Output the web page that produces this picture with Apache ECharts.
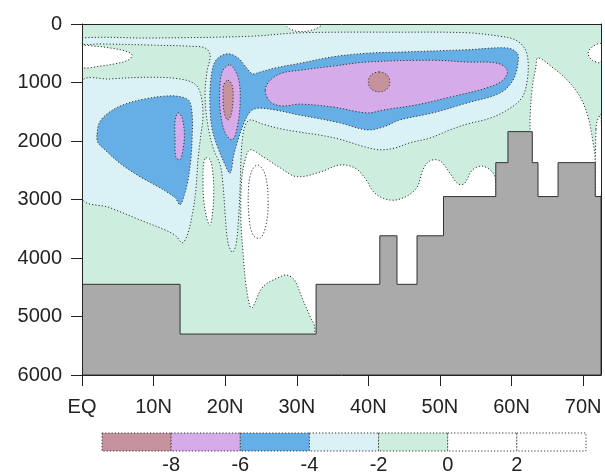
<!DOCTYPE html>
<html><head><meta charset="utf-8">
<script src="https://cdn.jsdelivr.net/npm/echarts@6/dist/echarts.min.js"></script>
<style>html,body{margin:0;padding:0;background:#fff}#c{width:605px;height:475px}</style>
</head><body><div id="c"></div>
<script>
// ---- axes / ticks ----
const latTicks = [0, 10, 20, 30, 40, 50, 60, 70];
const latMax = 72.5;
const depthTicks = [0, 1000, 2000, 3000, 4000, 5000, 6000];
const levels = [-8, -6, -4, -2, 0, 2];
const binLows = [-10, -8, -6, -4, -2, 0, 2];

// ---- bottom topography (step edges in latitude, depth of sea floor) ----
const topoEdges = [0, 13.7, 32.7, 41.6, 44.0, 46.8, 50.5, 57.8, 59.5, 62.9, 63.7, 66.5, 71.7, 72.5];
const topoDepth = [4450, 5300, 4450, 3620, 4450, 3620, 2950, 2370, 1840, 2370, 2950, 2370, 2950];

// ---- contour regions [lat, depth] (background level: -2..0) ----
const whiteTop = [[28.5,0],[33.5,0],[32.5,90],[30.5,130],[29.0,80]];
const whiteNW = [[0,390],[1.8,380],[3.9,410],[6.0,460],[7.0,530],[6.4,620],[4.6,680],[2.5,720],[0,730]];
const whiteNE = [[72.5,340],[71.3,390],[70.7,500],[71.3,620],[72.5,650]];
const whiteSliver20N = [[17.3,2290],[17.9,2320],[18.3,2580],[18.4,2920],[18.2,3260],[17.9,3440],[17.5,3350],[17.0,3010],[16.9,2630],[17.0,2380]];
const whiteDeep = [[23.5,2150],[25.3,2270],[27.7,2460],[30.0,2610],[33.3,2530],[36.0,2410],[38.1,2460],[39.5,2630],[40.9,2890],[43.0,3010],[45.1,2960],[46.8,2790],[47.6,2500],[48.6,2340],[50.0,2340],[51.4,2550],[52.5,2730],[53.4,2730],[54.5,2500],[55.9,2430],[57.3,2530],[57.8,2700],[57.8,6000],[32.7,6000],[32.5,5180],[31.9,5010],[30.7,4670],[29.7,4380],[28.6,4290],[27.7,4320],[25.3,4490],[23.8,4850],[23.5,4840],[22.9,4460],[22.5,3910],[22.2,3350],[22.3,2670],[22.8,2320]];
const whiteEllipse = [[24.6,2410],[25.6,2580],[26.0,3010],[25.7,3440],[24.9,3660],[23.9,3610],[23.3,3260],[23.3,2750],[23.8,2490]];
const white65N = [[62.6,1860],[62.6,1590],[62.9,1080],[63.4,740],[63.7,580],[65.8,750],[67.8,960],[69.6,1250],[70.7,1590],[71.4,2030],[71.7,2320],[71.7,3000],[62.6,3000]];
const whiteEdge = [[71.8,1800],[72.0,1650],[72.5,1550],[72.5,3000],[71.8,3000]];

const cyanWest = [[0,990],[3.9,940],[9.5,910],[13.7,940],[15.8,1030],[16.6,1210],[16.9,1560],[16.6,1900],[16.2,2320],[15.9,2840],[15.4,3260],[14.7,3610],[14.0,3740],[13.1,3620],[11.6,3520],[8.1,3350],[3.9,3140],[0,2970]];
const cyanMain = [[0,240],[9.5,240],[23.5,210],[30.5,150],[44.4,140],[53.8,150],[58.4,210],[60.5,270],[61.8,410],[62.3,620],[62.2,960],[61.5,1250],[59.8,1440],[57.0,1610],[53.8,1710],[51.4,1810],[48.6,1950],[45.8,2030],[43.7,2120],[41.6,2150],[39.5,2100],[36.0,1970],[33.3,1900],[30.5,1850],[27.7,1790],[25.2,1710],[23.5,1640],[22.8,1730],[22.4,1980],[22.2,2320],[22.1,2750],[21.9,3260],[21.5,3780],[21.0,3900],[20.4,3740],[20.0,3260],[19.7,2750],[19.3,2410],[18.4,2150],[17.7,1810],[17.3,1470],[17.2,1130],[17.5,790],[17.9,530],[17.2,410],[15.1,380],[9.5,360],[2.5,340],[0,340]];

const blueWest = [[2.1,1880],[2.5,1670],[3.9,1500],[6.0,1370],[8.8,1280],[11.9,1230],[14.0,1250],[15.0,1320],[15.4,1560],[15.4,1900],[15.2,2320],[14.8,2670],[14.3,2920],[13.7,3090],[13.0,2970],[10.9,2800],[8.1,2610],[5.3,2380],[3.2,2150],[2.2,2020]];
const blueMain = [[18.3,730],[19.0,580],[20.4,510],[21.8,580],[22.8,720],[23.8,850],[24.9,820],[27.0,750],[30.5,670],[35.1,560],[39.8,500],[44.4,480],[53.8,440],[59.4,410],[60.8,500],[60.9,670],[60.2,960],[58.4,1180],[53.8,1350],[49.0,1520],[44.4,1640],[42.1,1760],[39.8,1810],[36.0,1690],[32.8,1610],[30.5,1560],[27.0,1470],[24.6,1440],[23.5,1500],[22.5,1730],[21.8,1980],[21.2,2240],[20.7,2550],[20.0,2410],[19.0,2120],[18.2,1810],[17.9,1470],[17.9,1090]];

const lilacWest = [[13.4,1520],[14.0,1610],[14.3,1900],[14.1,2150],[13.7,2320],[13.1,2270],[13.0,1970],[13.0,1670]];
const lilac20N = [[20.7,700],[21.8,910],[22.1,1300],[21.7,1760],[21.0,1980],[20.0,1860],[19.3,1470],[19.3,1010],[19.7,790]];
const lilacNorth = [[25.6,1130],[26.3,960],[27.9,840],[30.5,790],[35.1,720],[39.8,650],[49.0,620],[53.8,650],[58.0,670],[59.4,790],[58.8,960],[56.6,1090],[51.4,1250],[46.8,1380],[42.1,1470],[39.8,1520],[35.1,1420],[30.5,1370],[27.9,1400],[26.3,1330]];

const pink20N = [[20.4,960],[21.0,1060],[21.1,1300],[20.8,1560],[20.3,1640],[19.8,1470],[19.7,1210],[19.8,1040]];
const pink42N = [[41.5,820],[42.6,870],[43.0,990],[42.6,1110],[41.5,1160],[40.4,1110],[40.0,990],[40.4,870]];

// region list: value inside the region (picks the level bin)
const regions = [
  {v: 1, pts: whiteTop}, {v: 1, pts: whiteNW}, {v: 1, pts: whiteNE},
  {v: 1, pts: whiteSliver20N}, {v: 1, pts: whiteDeep}, {v: 3, pts: whiteEllipse},
  {v: 1, pts: white65N}, {v: 1, pts: whiteEdge},
  {v: -3, pts: cyanWest}, {v: -3, pts: cyanMain},
  {v: -5, pts: blueWest}, {v: -5, pts: blueMain},
  {v: -7, pts: lilacWest}, {v: -7, pts: lilac20N}, {v: -7, pts: lilacNorth},
  {v: -9, pts: pink20N}, {v: -9, pts: pink42N}
];

const binColors = ['#c5929e', '#d6abe9', '#66aee6', '#daf2f6', '#cdeedf', '#ffffff', '#ffffff'];
function colorFor(v) {
  let i = 0;
  while (i < levels.length && v > levels[i]) i++;
  return binColors[i];
}

// topography polygon built from the step arrays
const topoPts = [[0, 6000]];
for (let i = 0; i < topoDepth.length; i++) {
  topoPts.push([topoEdges[i], topoDepth[i]]);
  topoPts.push([topoEdges[i + 1], topoDepth[i]]);
}
topoPts.push([latMax, 6000]);

const FONT = 'Liberation Sans';
const FS = 20;
const TXT = '#222';
const dotted = {stroke: '#333', lineWidth: 1, lineDash: [1.2, 2]};

const chart = echarts.init(document.getElementById('c'));
chart.setOption({
  animation: false,
  backgroundColor: '#fff',
  grid: [
    {left: 82, top: 24, right: 4, bottom: 100, show: true, backgroundColor: binColors[4], borderWidth: 0},
    {left: 102, top: 433, width: 484, height: 20}
  ],
  xAxis: [
    {gridIndex: 0, type: 'value', min: 0, max: latMax, z: 10,
     axisLine: {onZero: false, lineStyle: {color: TXT, width: 1}},
     axisTick: {length: 11, customValues: latTicks, lineStyle: {color: TXT}},
     axisLabel: {customValues: latTicks, margin: 22, fontSize: FS, fontFamily: FONT, color: TXT,
       formatter: v => v === 0 ? 'EQ' : v + 'N'},
     splitLine: {show: false}},
    {gridIndex: 0, type: 'value', min: 0, max: latMax, position: 'top', z: 10,
     axisLine: {onZero: false, lineStyle: {color: TXT, width: 1}},
     axisTick: {show: false}, axisLabel: {show: false}, splitLine: {show: false}},
    {gridIndex: 1, type: 'value', min: binLows[0], max: binLows[binLows.length - 1] + 2,
     axisLine: {show: false}, axisTick: {show: false}, splitLine: {show: false},
     axisLabel: {customValues: levels, margin: 4, fontSize: FS, fontFamily: FONT, color: TXT,
       formatter: v => String(v)}}
  ],
  yAxis: [
    {gridIndex: 0, type: 'value', inverse: true, min: 0, max: 6000, z: 10,
     axisLine: {show: true, onZero: false, lineStyle: {color: TXT, width: 1}},
     axisTick: {show: true, length: 11, customValues: depthTicks, lineStyle: {color: TXT}},
     axisLabel: {customValues: depthTicks, margin: 20, fontSize: FS, fontFamily: FONT, color: TXT,
       formatter: v => String(v)},
     splitLine: {show: false}},
    {gridIndex: 0, type: 'value', inverse: true, min: 0, max: 6000, position: 'right', z: 10,
     axisLine: {show: true, onZero: false, lineStyle: {color: TXT, width: 1}},
     axisTick: {show: false}, axisLabel: {show: false}, splitLine: {show: false}},
    {gridIndex: 1, type: 'value', min: 0, max: 1, show: false}
  ],
  series: [
    {type: 'custom', xAxisIndex: 0, yAxisIndex: 0, clip: true, z: 2,
     data: regions.map(r => r.pts[0]),
     renderItem: (params, api) => {
       const r = regions[params.dataIndex];
       return {type: 'polygon',
         shape: {points: r.pts.map(p => api.coord(p)), smooth: 0.35},
         style: Object.assign({fill: colorFor(r.v)}, dotted)};
     }},
    {type: 'custom', xAxisIndex: 0, yAxisIndex: 0, clip: true, z: 3,
     data: [topoPts[0]],
     renderItem: (params, api) => ({type: 'polygon',
       shape: {points: topoPts.map(p => api.coord(p))},
       style: {fill: '#aaaaaa', stroke: '#333', lineWidth: 1}})},
    {type: 'custom', xAxisIndex: 2, yAxisIndex: 2, z: 2,
     data: binLows.map(b => [b, 0]),
     renderItem: (params, api) => {
       const lo = binLows[params.dataIndex];
       const p0 = api.coord([lo, 1]);
       const p1 = api.coord([lo + 2, 0]);
       return {type: 'rect',
         shape: {x: p0[0], y: p0[1], width: p1[0] - p0[0], height: p1[1] - p0[1]},
         style: Object.assign({fill: colorFor(lo + 1)}, dotted)};
     }}
  ]
});
</script></body></html>
